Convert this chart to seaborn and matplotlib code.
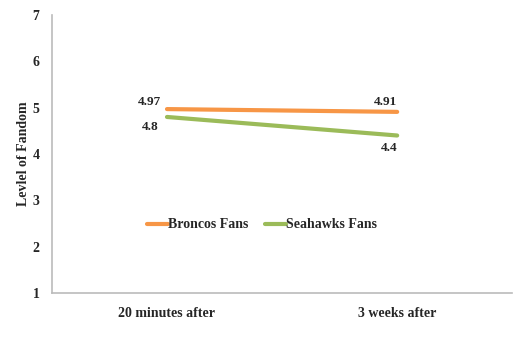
import numpy as np
import pandas as pd
import seaborn as sns
import matplotlib.pyplot as plt

times = ["20 minutes after", "3 weeks after"]
broncos = [4.97, 4.91]
seahawks = [4.8, 4.4]
series_names = ["Broncos Fans", "Seahawks Fans"]

df = pd.DataFrame({
    "time": times * 2,
    "fandom": broncos + seahawks,
    "group": [series_names[0]] * 2 + [series_names[1]] * 2,
})

sns.set_style("white")
plt.rcParams['font.family'] = ['Liberation Serif', 'DejaVu Serif']
plt.rcParams['font.weight'] = 'bold'

fig = plt.figure(figsize=(5.19, 3.57), dpi=100)
ax = fig.add_axes([0.100, 0.179, 0.887, 0.779])
ax = sns.lineplot(data=df, x="time", y="fandom", hue="group", ax=ax,
                  palette=["#F79646", "#9BBB59"], linewidth=3, sort=False)

ax.set_xlim(-0.5, 1.5)
ax.set_ylim(1, 7)
ax.set_yticks(range(1, 8))
ax.set_xlabel("")
# the original label really does read "Levlel"
ax.set_ylabel("Levlel of Fandom", fontsize=10, fontweight="bold", labelpad=2)
ax.tick_params(axis="both", length=0, labelsize=10)
ax.tick_params(axis="x", pad=10)
ax.tick_params(axis="y", pad=9)
for lbl in ax.get_xticklabels() + ax.get_yticklabels():
    lbl.set_fontweight("bold")

for s in ["top", "right"]:
    ax.spines[s].set_visible(False)
for s in ["left", "bottom"]:
    ax.spines[s].set_color("#BBBBBB")
    ax.spines[s].set_linewidth(1.2)

# data labels
ax.annotate(f"{broncos[0]}", (0, broncos[0]), xytext=(-4, 1), textcoords="offset points",
            ha="right", va="bottom", fontsize=9.5, fontweight="bold")
ax.annotate(f"{seahawks[0]}", (0, seahawks[0]), xytext=(-6, -3), textcoords="offset points",
            ha="right", va="top", fontsize=9.5, fontweight="bold")
ax.annotate(f"{broncos[1]}", (1, broncos[1]), xytext=(0, 3), textcoords="offset points",
            ha="right", va="bottom", fontsize=9.5, fontweight="bold")
ax.annotate(f"{seahawks[1]}", (1, seahawks[1]), xytext=(0, -5), textcoords="offset points",
            ha="right", va="top", fontsize=9.5, fontweight="bold")

leg = ax.legend(loc="center", bbox_to_anchor=(0.457, 0.245), ncol=2, frameon=False,
                fontsize=10, handlelength=1.5, handletextpad=0.0, columnspacing=1.2)
for t in leg.get_texts():
    t.set_fontweight("bold")

fig.savefig("out.png", dpi=100)
